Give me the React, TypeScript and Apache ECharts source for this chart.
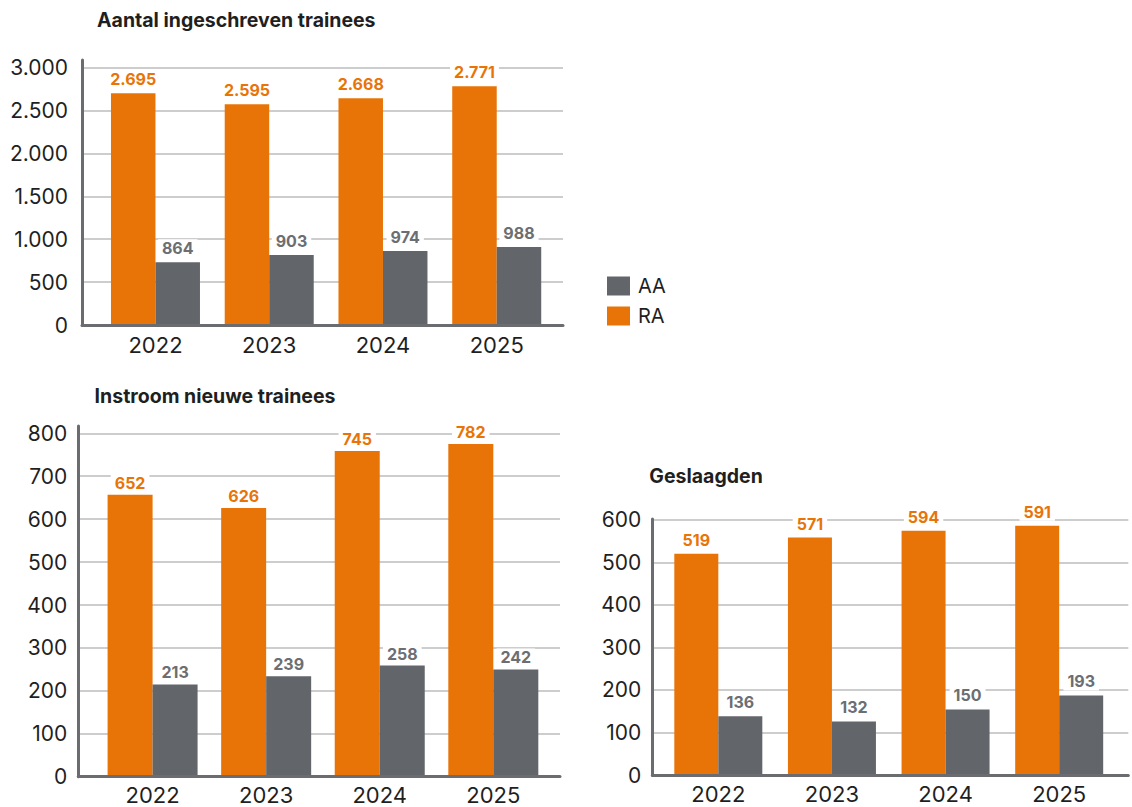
import React, { useEffect, useRef } from "react";
import * as echarts from "echarts";

// ---------- data ----------
const categories = ["2022", "2023", "2024", "2025"];
const legendNames = ["AA", "RA"];

// Aantal ingeschreven trainees (bar heights as drawn, and printed labels)
const ingeschrevenRA = [2701, 2573, 2643, 2783];
const ingeschrevenAA = [733, 815, 862, 908];
const ingeschrevenRALabels = ["2.695", "2.595", "2.668", "2.771"];
const ingeschrevenAALabels = ["864", "903", "974", "988"];

// Instroom nieuwe trainees
const instroomRA = [657, 626, 759, 775];
const instroomAA = [215, 234, 259, 250];
const instroomRALabels = ["652", "626", "745", "782"];
const instroomAALabels = ["213", "239", "258", "242"];

// Geslaagden
const geslaagdenRA = [520, 558, 574, 586];
const geslaagdenAA = [138, 126, 154, 187];
const geslaagdenRALabels = ["519", "571", "594", "591"];
const geslaagdenAALabels = ["136", "132", "150", "193"];

const titles = ["Aantal ingeschreven trainees", "Instroom nieuwe trainees", "Geslaagden"];
const yMaxes = [3000, 800, 600];
const yIntervals = [500, 100, 100];

// ---------- style ----------
const ORANGE = "#E87407";
const GREY = "#626569";
const GREY_LABEL = "#6c6e72";
const AXIS = "#6a6c6f";
const GRID = "#bdbdbd";
const TEXT = "#1f1f1f";
const FONT = "Inter, 'Noto Sans', sans-serif";

const fmt = (v: number) => String(v).replace(/\B(?=(\d{3})+(?!\d))/g, ".");

type Geom = {
  frameLeft: number; frameTop: number; frameRight: number; bottom: number;
  plotTop: number; bandLeft: number; bandRight: number; barWidth: number;
  yLabelMargin: number; xLabelMargin: number; labelDist: number; titleLeft: number; titleTop: number;
};

const geoms: Geom[] = [
  { frameLeft: 82, frameTop: 60, frameRight: 563, bottom: 325, plotTop: 67.7, bandLeft: 98.6, bandRight: 553.6, barWidth: 44.5, yLabelMargin: 14, xLabelMargin: 9, labelDist: 5, titleLeft: 97, titleTop: 10 },
  { frameLeft: 78.3, frameTop: 426, frameRight: 560, bottom: 776.7, plotTop: 433.3, bandLeft: 95.8, bandRight: 550.1, barWidth: 45, yLabelMargin: 11, xLabelMargin: 7, labelDist: 3, titleLeft: 94.6, titleTop: 386 },
  { frameLeft: 652.3, frameTop: 519, frameRight: 1128.3, bottom: 775, plotTop: 519.7, bandLeft: 661.5, bandRight: 1116, barWidth: 44, yLabelMargin: 11, xLabelMargin: 8, labelDist: 5, titleLeft: 649.3, titleTop: 466 },
];

const seriesData = [
  { ra: ingeschrevenRA, aa: ingeschrevenAA, raL: ingeschrevenRALabels, aaL: ingeschrevenAALabels },
  { ra: instroomRA, aa: instroomAA, raL: instroomRALabels, aaL: instroomAALabels },
  { ra: geslaagdenRA, aa: geslaagdenAA, raL: geslaagdenRALabels, aaL: geslaagdenAALabels },
];

function buildOption() {
  const grid: any[] = [];
  const xAxis: any[] = [];
  const yAxis: any[] = [];
  const series: any[] = [];
  const title: any[] = [];

  geoms.forEach((g, i) => {
    const base = grid.length;
    // frame grid: axis lines only
    grid.push({ left: g.frameLeft, top: g.frameTop, width: g.frameRight - g.frameLeft, height: g.bottom - g.frameTop, outerBoundsMode: "none" });
    xAxis.push({
      type: "value", gridIndex: base, min: 0, max: 1, z: 10,
      axisLine: { show: true, onZero: false, lineStyle: { color: AXIS, width: 3 } },
      axisTick: { show: false }, axisLabel: { show: false }, splitLine: { show: false },
    });
    yAxis.push({
      type: "value", gridIndex: base, min: 0, max: 1, z: 10,
      axisLine: { show: true, onZero: false, lineStyle: { color: AXIS, width: 3 } },
      axisTick: { show: false }, axisLabel: { show: false }, splitLine: { show: false },
    });
    // lines grid: split lines + y labels
    grid.push({ left: g.frameLeft, top: g.plotTop, width: g.frameRight - g.frameLeft, height: g.bottom - g.plotTop, outerBoundsMode: "none" });
    xAxis.push({ type: "value", gridIndex: base + 1, min: 0, max: 1, show: false });
    yAxis.push({
      type: "value", gridIndex: base + 1, min: 0, max: yMaxes[i], interval: yIntervals[i],
      axisLine: { show: false }, axisTick: { show: false },
      splitLine: { show: true, lineStyle: { color: GRID, width: 1.5 } },
      axisLabel: { show: true, margin: g.yLabelMargin, fontSize: 21, color: TEXT, fontFamily: FONT, formatter: (v: number) => fmt(v) },
    });
    // bars grid
    grid.push({ left: g.bandLeft, top: g.plotTop, width: g.bandRight - g.bandLeft, height: g.bottom - g.plotTop, outerBoundsMode: "none" });
    xAxis.push({
      type: "category", gridIndex: base + 2, data: categories,
      axisLine: { show: false }, axisTick: { show: false }, splitLine: { show: false },
      axisLabel: { show: true, margin: g.xLabelMargin, fontSize: 22, lineHeight: 22, color: TEXT, fontFamily: FONT },
    });
    yAxis.push({ type: "value", gridIndex: base + 2, min: 0, max: yMaxes[i], show: false, splitLine: { show: false } });

    const d = seriesData[i];
    const labelStyle = (color: string, labels: string[]) => ({
      show: true, position: "top", distance: g.labelDist, color, fontSize: 16, fontWeight: 700,
      fontFamily: FONT, backgroundColor: "#ffffff", padding: [1, 4],
      formatter: (p: any) => labels[p.dataIndex],
    });
    series.push({
      type: "bar", name: "RA", xAxisIndex: base + 2, yAxisIndex: base + 2, data: d.ra,
      barWidth: g.barWidth, barGap: "0%", itemStyle: { color: ORANGE }, label: labelStyle(ORANGE, d.raL), z: 3,
    });
    series.push({
      type: "bar", name: "AA", xAxisIndex: base + 2, yAxisIndex: base + 2, data: d.aa,
      barWidth: g.barWidth, barGap: "0%", itemStyle: { color: GREY }, label: labelStyle(GREY_LABEL, d.aaL), z: 3,
    });

    title.push({
      text: titles[i], left: g.titleLeft, top: g.titleTop, padding: 0,
      textStyle: { fontSize: 19.5, fontWeight: 700, color: TEXT, fontFamily: FONT },
    });
  });

  return {
    animation: false,
    backgroundColor: "#ffffff",
    title,
    legend: {
      data: legendNames, orient: "vertical", left: 607, top: 276, padding: 0,
      itemWidth: 23, itemHeight: 19, itemGap: 10, icon: "rect",
      textStyle: { fontSize: 20, color: TEXT, fontFamily: FONT, padding: [0, 0, 0, 3] },
      selectedMode: false,
    },
    grid, xAxis, yAxis, series,
  };
}

export default function App() {
  const ref = useRef<HTMLDivElement>(null);
  useEffect(() => {
    if (!ref.current) return;
    const chart = echarts.init(ref.current, undefined, { renderer: "svg", width: 1132, height: 807 });
    chart.setOption(buildOption() as any);
    return () => chart.dispose();
  }, []);
  return (
    <div
      ref={ref}
      style={{ position: "absolute", left: 0, top: 0, width: 1132, height: 807, background: "#fff" }}
    />
  );
}
